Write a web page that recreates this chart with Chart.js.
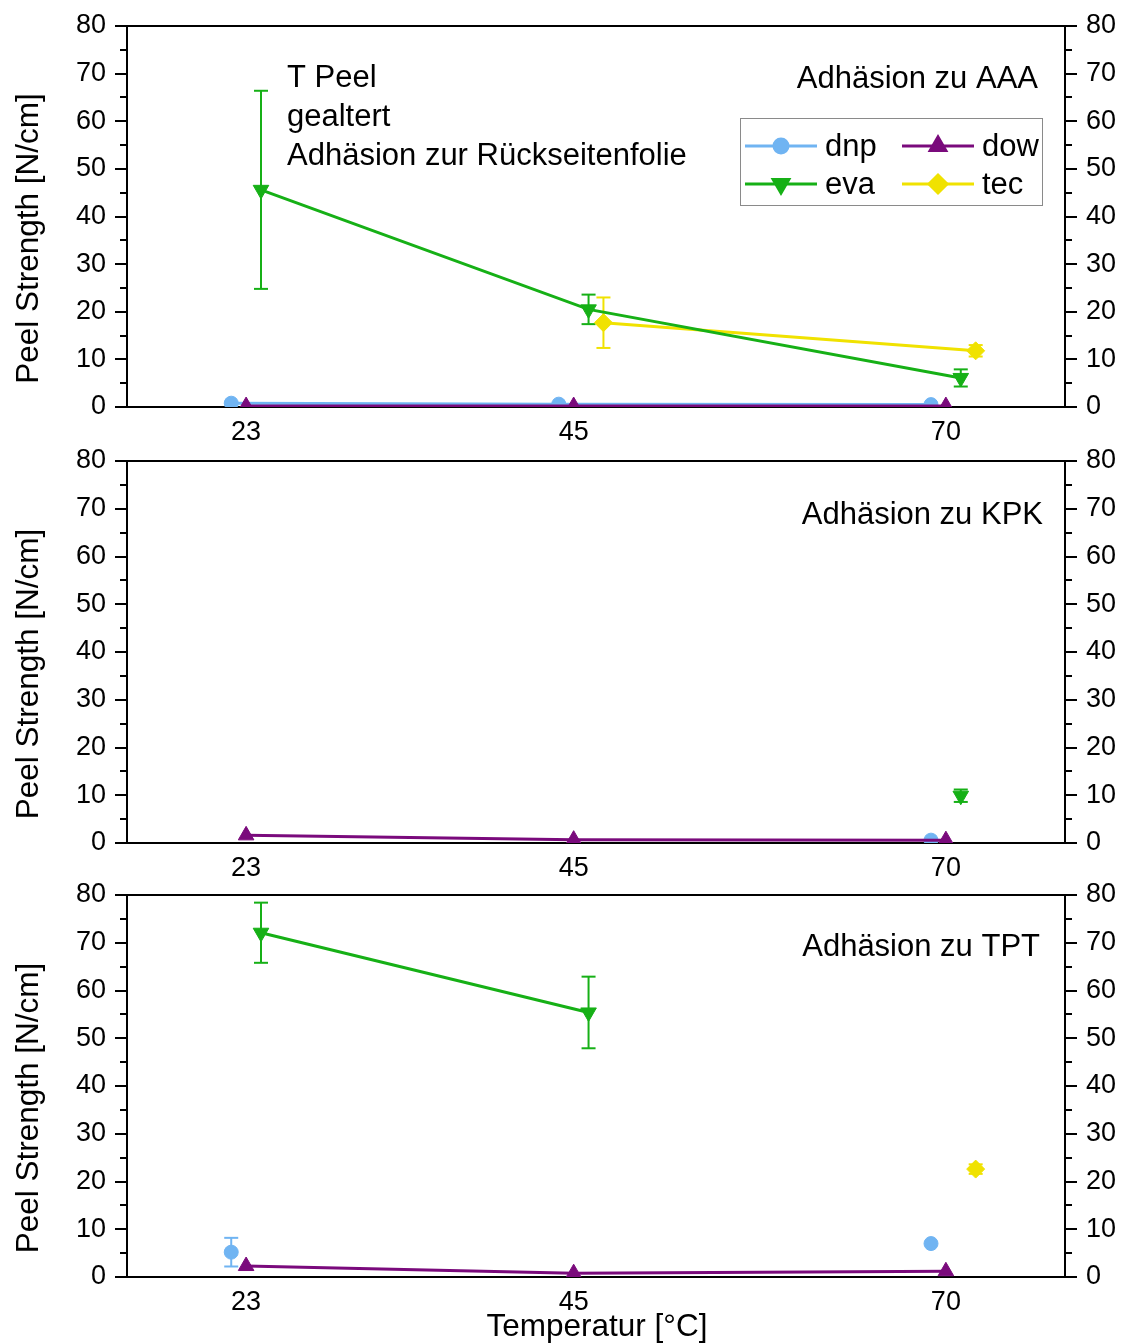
<!DOCTYPE html>
<html>
<head>
<meta charset="utf-8">
<script src="https://cdn.jsdelivr.net/npm/chart.js@4.4.0/dist/chart.umd.min.js"></script>
<style>
  html, body { margin: 0; padding: 0; background: #fff; }
  #wrap { position: relative; width: 1121px; height: 1343px; overflow: hidden; background: #fff; }
  #wrap canvas { position: absolute; left: 0; }
</style>
</head>
<body>
<div id="wrap">
  <canvas id="aaa" width="1121" height="460" style="top:0px"></canvas>
  <canvas id="kpk" width="1121" height="460" style="top:435px"></canvas>
  <canvas id="tpt" width="1121" height="474" style="top:869px"></canvas>
</div>
<script>
// temperaturen (x-kategorien)
const temps = [23, 45, 70];
const yTicks = [0, 10, 20, 30, 40, 50, 60, 70, 80];

// Adhäsion zu AAA
const aaaDnp = [0.8, 0.6, 0.5];
const aaaDow = [0.2, 0.2, 0.2];
const aaaEva = [45.6, 20.5, 6.1];
const aaaEvaErr = [20.8, 3.1, 1.8];
const aaaTec = [null, 17.7, 11.8];
const aaaTecErr = [0, 5.3, 1.2];

// Adhäsion zu KPK
const kpkDnp = [null, null, 0.6];
const kpkDow = [1.6, 0.7, 0.6];
const kpkEva = [null, null, 9.9];
const kpkEvaErr = [0, 0, 1.3];
const kpkTec = [null, null, null];

// Adhäsion zu TPT
const tptDnp = [5.2, null, 7.0];
const tptDnpErr = [3.0, 0, 0];
const tptDow = [2.3, 0.8, 1.2];
const tptEva = [72.1, 55.4, null];
const tptEvaErr = [6.3, 7.5, 0];
const tptTec = [null, null, 22.6];
const tptTecErr = [0, 0, 1.0];

const FONT = '"Liberation Sans", Arial, sans-serif';

// stil je serie (versatz in x wie im original)
const styles = {
  dnp: { color: '#70b4f2', pointStyle: 'circle', radius: 7, rotation: 0, dodge: -1, order: 1 },
  dow: { color: '#7a0a7c', pointStyle: 'triangle', radius: 9, rotation: 0, dodge: 0, order: 0 },
  eva: { color: '#16b016', pointStyle: 'triangle', radius: 9, rotation: 180, dodge: 1, order: 2 },
  tec: { color: '#f0e200', pointStyle: 'rectRot', radius: 9, rotation: 0, dodge: 2, order: 3 }
};

function makeSet(name, values, errors) {
  const s = styles[name];
  return {
    label: name,
    data: values.map((v, i) => ({ x: temps[i] + s.dodge, y: v })),
    errors: errors || null,
    order: s.order,
    borderColor: s.color,
    backgroundColor: s.color,
    borderWidth: 3,
    pointStyle: s.pointStyle,
    pointRadius: s.radius,
    pointRotation: s.rotation,
    pointBorderWidth: 1,
    pointBackgroundColor: s.color,
    pointBorderColor: s.color,
    tension: 0,
    spanGaps: false
  };
}

function line(ctx, x1, y1, x2, y2) {
  ctx.beginPath();
  ctx.moveTo(x1, y1);
  ctx.lineTo(x2, y2);
  ctx.stroke();
}

// rahmen + ticks links/rechts
const framePlugin = {
  id: 'frame',
  beforeDatasetsDraw(chart) {
    const { ctx, chartArea: a } = chart;
    const y = chart.scales.y;
    ctx.save();
    ctx.strokeStyle = '#000';
    ctx.lineWidth = 2;
    ctx.strokeRect(a.left, a.top, a.right - a.left, a.bottom - a.top);
    for (let v = 0; v <= 80; v += 5) {
      const py = Math.round(y.getPixelForValue(v));
      const len = v % 10 === 0 ? 12 : 7;
      line(ctx, a.left - len, py, a.left, py);
      line(ctx, a.right, py, a.right + len, py);
    }
    ctx.restore();
  }
};

// fehlerbalken
const errorBarPlugin = {
  id: 'errorBars',
  beforeDatasetsDraw(chart) {
    const { ctx } = chart;
    const y = chart.scales.y;
    chart.data.datasets.forEach((ds, di) => {
      if (!ds.errors) return;
      const meta = chart.getDatasetMeta(di);
      ctx.save();
      ctx.strokeStyle = ds.borderColor;
      ctx.lineWidth = 2;
      ds.data.forEach((p, i) => {
        const e = ds.errors[i];
        if (p.y == null || !e) return;
        const px = meta.data[i].x;
        const top = y.getPixelForValue(p.y + e);
        const bot = y.getPixelForValue(p.y - e);
        line(ctx, px, top, px, bot);
        line(ctx, px - 7, top, px + 7, top);
        line(ctx, px - 7, bot, px + 7, bot);
      });
      ctx.restore();
    });
  }
};

// texte, achsentitel, legende
const notesPlugin = {
  id: 'notes',
  afterDraw(chart, args, opts) {
    const { ctx, chartArea: a } = chart;
    ctx.save();
    ctx.fillStyle = '#000';
    (opts.texts || []).forEach(t => {
      ctx.font = t.size + 'px ' + FONT;
      ctx.textAlign = t.align;
      ctx.textBaseline = 'alphabetic';
      ctx.fillText(t.text, t.x, t.y);
    });
    // y-achsentitel
    ctx.save();
    ctx.font = '31.5px ' + FONT;
    ctx.translate(38, (a.top + a.bottom) / 2 + 22);
    ctx.rotate(-Math.PI / 2);
    ctx.textAlign = 'center';
    ctx.textBaseline = 'alphabetic';
    ctx.fillText('Peel Strength [N/cm]', 0, 0);
    ctx.restore();
    if (opts.xTitle) {
      ctx.font = '31.5px ' + FONT;
      ctx.textAlign = 'center';
      ctx.fillText(opts.xTitle, 597, a.bottom + 59);
    }
    if (opts.legend) {
      ctx.strokeStyle = '#8a8a8a';
      ctx.lineWidth = 1;
      ctx.strokeRect(740.5, 118.5, 302, 87);
      const cells = [
        { name: 'dnp', x: 745, y: 146 }, { name: 'dow', x: 902, y: 146 },
        { name: 'eva', x: 745, y: 184 }, { name: 'tec', x: 902, y: 184 }
      ];
      cells.forEach(c => {
        const s = styles[c.name];
        ctx.strokeStyle = s.color;
        ctx.fillStyle = s.color;
        ctx.lineWidth = 3;
        line(ctx, c.x, c.y, c.x + 72, c.y);
        Chart.helpers.drawPoint(ctx, { pointStyle: s.pointStyle, radius: s.radius, rotation: s.rotation, borderWidth: 1 }, c.x + 36, c.y);
        ctx.fillStyle = '#000';
        ctx.font = '31px ' + FONT;
        ctx.textAlign = 'left';
        ctx.fillText(c.name, c.x + 80, c.y + 10);
      });
    }
    ctx.restore();
  }
};

// feste breite der y-achse, ohne zusätzlichen rand oben/unten
function fixY(width) {
  return s => { s.width = width; s.paddingTop = 0; s.paddingBottom = 0; };
}

function makeChart(id, sets, xHeight, notes) {
  const tickFont = { family: FONT, size: 27 };
  return new Chart(document.getElementById(id), {
    type: 'line',
    data: { datasets: sets },
    options: {
      responsive: false,
      animation: false,
      events: [],
      layout: { padding: { top: 26, left: 0, right: 0, bottom: 0 } },
      scales: {
        x: {
          type: 'linear', min: 15, max: 78,
          afterBuildTicks: s => { s.ticks = temps.map(v => ({ value: v })); },
          afterFit: s => { s.height = xHeight; s.paddingLeft = 0; s.paddingRight = 0; },
          ticks: { font: tickFont, color: '#000', padding: 9 },
          grid: { display: false, drawTicks: false },
          border: { display: false }
        },
        y: {
          position: 'left', min: 0, max: 80,
          afterBuildTicks: s => { s.ticks = yTicks.map(v => ({ value: v })); },
          afterFit: fixY(127),
          ticks: { font: tickFont, color: '#000', padding: 21 },
          grid: { display: false, drawTicks: false },
          border: { display: false }
        },
        y2: {
          position: 'right', min: 0, max: 80,
          afterBuildTicks: s => { s.ticks = yTicks.map(v => ({ value: v })); },
          afterFit: fixY(56),
          ticks: { font: tickFont, color: '#000', padding: 21 },
          grid: { display: false, drawTicks: false },
          border: { display: false }
        }
      },
      plugins: {
        legend: { display: false },
        tooltip: { enabled: false },
        notes: notes
      }
    },
    plugins: [framePlugin, errorBarPlugin, notesPlugin]
  });
}

makeChart('aaa', [
  makeSet('dnp', aaaDnp),
  makeSet('dow', aaaDow),
  makeSet('eva', aaaEva, aaaEvaErr),
  makeSet('tec', aaaTec, aaaTecErr)
], 53, {
  legend: true,
  texts: [
    { text: 'T Peel', x: 287, y: 87, size: 31, align: 'left' },
    { text: 'gealtert', x: 287, y: 126, size: 31, align: 'left' },
    { text: 'Adhäsion zur Rückseitenfolie', x: 287, y: 165, size: 31, align: 'left' },
    { text: 'Adhäsion zu AAA', x: 1038, y: 88, size: 31, align: 'right' }
  ]
});

makeChart('kpk', [
  makeSet('dnp', kpkDnp),
  makeSet('dow', kpkDow),
  makeSet('eva', kpkEva, kpkEvaErr),
  makeSet('tec', kpkTec)
], 52, {
  texts: [{ text: 'Adhäsion zu KPK', x: 1043, y: 89, size: 31, align: 'right' }]
});

makeChart('tpt', [
  makeSet('dnp', tptDnp, tptDnpErr),
  makeSet('dow', tptDow),
  makeSet('eva', tptEva, tptEvaErr),
  makeSet('tec', tptTec, tptTecErr)
], 66, {
  xTitle: 'Temperatur [°C]',
  texts: [{ text: 'Adhäsion zu TPT', x: 1040, y: 87, size: 31, align: 'right' }]
});
</script>
</body>
</html>
